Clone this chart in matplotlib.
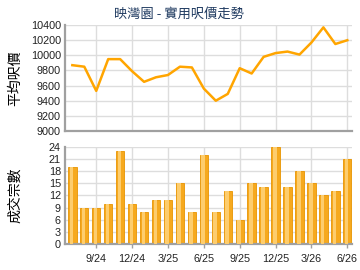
#!/usr/bin/env python3
# Recreate: price trend + transaction count chart
import matplotlib
matplotlib.use("Agg")
import matplotlib.pyplot as plt
import numpy as np

# DATA
months = ["7/24", "8/24", "9/24", "10/24", "11/24", "12/24", "1/25", "2/25", "3/25", "4/25",
          "5/25", "6/25", "7/25", "8/25", "9/25", "10/25", "11/25", "12/25", "1/26", "2/26",
          "3/26", "4/26", "5/26", "6/26"]
avg_price = [9870, 9850, 9530, 9950, 9950, 9790, 9650, 9710, 9740, 9850,
             9840, 9560, 9400, 9490, 9830, 9760, 9980, 10030, 10050, 10010,
             10170, 10370, 10150, 10200]
deals = [19, 9, 9, 10, 23, 10, 8, 11, 11, 15, 8, 22, 8, 13, 6, 15, 14, 24, 14, 18, 15, 12, 13, 21]
tick_labels = ["9/24", "12/24", "3/25", "6/25", "9/25", "12/25", "3/26", "6/26"]

cjk = ["Noto Sans CJK TC", "DejaVu Sans"]
plt.rcParams["font.family"] = ["Liberation Sans", "DejaVu Sans"]

x = np.arange(len(months))
tick_pos = [months.index(t) for t in tick_labels]
grid_c = "#DDDDDD"
spine_c = "#A0A0A0"

fig = plt.figure(figsize=(3.6, 2.7), dpi=100)
ax1 = fig.add_axes([0.181, 0.515, 0.797, 0.392])
ax2 = fig.add_axes([0.181, 0.096, 0.797, 0.360])

for ax in (ax1, ax2):
    ax.set_xlim(-0.6, 23.4)
    ax.set_xticks(tick_pos)
    ax.grid(True, color=grid_c, linewidth=1)
    ax.set_axisbelow(True)
    for s in ("top", "right"):
        ax.spines[s].set_visible(False)
    for s in ("left", "bottom"):
        ax.spines[s].set_color(spine_c)
        ax.spines[s].set_linewidth(1.6)
    ax.tick_params(axis="y", length=0, labelsize=7.8, pad=3, colors="#222222")

# price line
ax1.plot(x, avg_price, color="#FFA500", linewidth=1.8, zorder=3)
ax1.set_ylim(9000, 10400)
ax1.set_yticks(np.arange(9000, 10401, 200))
ax1.tick_params(axis="x", length=0, labelbottom=False)
ax1.set_ylabel("平均呎價", family=cjk, fontsize=10)
fig.text(0.497, 0.947, "映灣園 - 實用呎價走勢", family=cjk, fontsize=9.5,
         color="#1F3A60", ha="center", va="center")

# deal count bars
ax2.bar(x, deals, width=0.7, color="#F6A91E", edgecolor="#E89400", linewidth=0.6, zorder=2)
ax2.bar(x - 0.06, deals, width=0.3, color="#FDCD6E", linewidth=0, zorder=3)
ax2.set_ylim(0, 24)
ax2.set_yticks(np.arange(0, 25, 3))
ax2.set_xticklabels(tick_labels)
ax2.tick_params(axis="x", length=3, width=1, color=spine_c, labelsize=7.8, pad=4, colors="#222222")
ax2.set_ylabel("成交宗數", family=cjk, fontsize=10)
ax1.yaxis.set_label_coords(-0.15, 0.5)
ax2.yaxis.set_label_coords(-0.15, 0.5)

fig.savefig("out.png", dpi=100)
